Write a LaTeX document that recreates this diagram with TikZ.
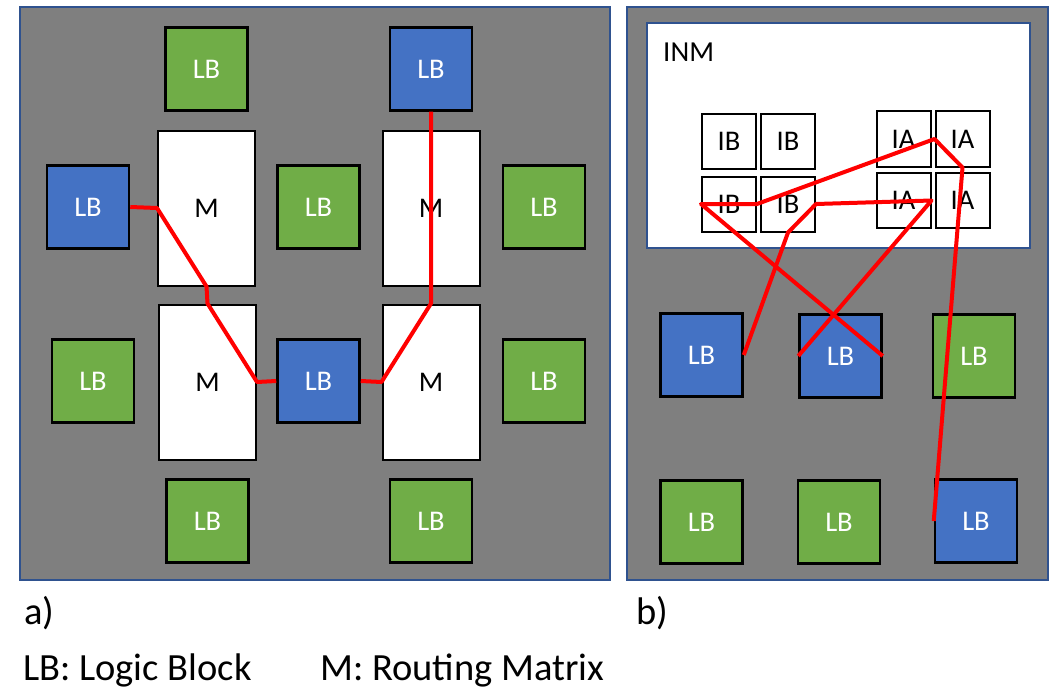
\documentclass[tikz,border=0pt]{standalone}
\usepackage{fontspec}
\setmainfont{Carlito}
\definecolor{panelgray}{HTML}{7F7F7F}
\definecolor{lbgreen}{HTML}{70AD47}
\definecolor{lbblue}{HTML}{4472C4}
\definecolor{edgeblue}{HTML}{2F528F}
\definecolor{wire}{HTML}{FF0000}
\begin{document}
\begin{tikzpicture}[x=1pt,y=-1pt,
  boxfont/.style={font=\fontsize{28.5}{28.5}\selectfont},
  panel/.style={draw=edgeblue,fill=panelgray,line width=1.5pt,inner sep=0pt},
  lb/.style={boxfont,draw=black,line width=2.5pt,minimum width=82pt,minimum height=83pt,inner sep=0pt,text=white},
  glb/.style={lb,fill=lbgreen},
  blb/.style={lb,fill=lbblue},
  mat/.style={boxfont,draw=black,fill=white,line width=2pt,minimum width=97pt,minimum height=155pt,inner sep=0pt},
  cell/.style={boxfont,draw=black,fill=white,line width=2pt,minimum width=54pt,minimum height=55pt,inner sep=0pt},
  route/.style={draw=wire,line width=4pt,line join=round},
  caption/.style={anchor=base west,inner sep=0pt,font=\fontsize{38.5}{38.5}\selectfont}]
\useasboundingbox (0,0) rectangle (1056,690);

% ---- panel a: island-style fabric ----
\node[panel,minimum width=590pt,minimum height=573pt] (pa) at (315,293.5) {};
\node[glb] (aT1) at (206.5,69) {LB};
\node[blb] (aT2) at (431,69) {LB};
\node[mat] (mTL) at (206.5,208) {M};
\node[mat] (mTR) at (431,208) {M};
\node[blb] (aL1) at (88,207) {LB};
\node[glb] (aC1) at (318.5,207) {LB};
\node[glb] (aR1) at (544,207) {LB};
\node[mat] (mBL) at (207.5,382) {M};
\node[mat] (mBR) at (431,382) {M};
\node[glb] (aL2) at (93,381) {LB};
\node[blb] (aC2) at (318.5,381) {LB};
\node[glb] (aR2) at (544,381) {LB};
\node[glb] (aB1) at (207.5,521) {LB};
\node[glb] (aB2) at (431,521) {LB};

\draw[route] (aL1.east) -- (mTL.west) -- (mTL.south) -- (mBL.north) -- (mBL.east) -- (aC2.west);
\draw[route] (aT2.south) -- (mBR.north) -- (mBR.west) -- (aC2.east);

% ---- panel b: interconnect network matrix ----
\node[panel,minimum width=421pt,minimum height=573pt] (pb) at (837.5,293.5) {};
\node[draw=edgeblue,fill=white,line width=2pt,minimum width=383pt,minimum height=225pt,inner sep=0pt] (inm) at (838.5,135.5) {};
\node[anchor=base west,inner sep=0pt,font=\fontsize{29}{29}\selectfont] (inmlabel) at (663,62) {INM};

\node[cell] (ibTL) at (729,141.5) {IB};
\node[cell] (ibTR) at (788,141.5) {IB};
\node[cell] (ibBL) at (729,204) {IB};
\node[cell] (ibBR) at (788,204) {IB};
\node[cell] (iaTL) at (903.5,139) {IA};
\node[cell] (iaTR) at (962.5,139) {IA};
\node[cell] (iaBL) at (903.5,200.5) {IA};
\node[cell] (iaBR) at (962.5,200.5) {IA};

\node[blb] (b1) at (701.5,355) {LB};
\node[blb] (b2) at (840.5,356) {LB};
\node[glb] (b3) at (974,356) {LB};
\node[glb] (b4) at (701.5,522) {LB};
\node[glb] (b5) at (839,522) {LB};
\node[blb] (b6) at (976,521) {LB};

\draw[route] (b2.east) -- (ibBL.west) -- (ibBL.east) -- (iaTR.west) -- (iaTR.south) -- (b6.west);
\draw[route] (b1.east) -- (ibBR.south) -- (ibBR.east) -- (iaBL.east) -- (b2.west);

% ---- captions ----
\node[caption] (capa) at (24,624) {a)};
\node[caption] (capb) at (636,624) {b)};
\node[caption] (keylb) at (23,680) {LB: Logic Block};
\node[caption] (keym) at (320,680) {M: Routing Matrix};
\end{tikzpicture}
\end{document}
